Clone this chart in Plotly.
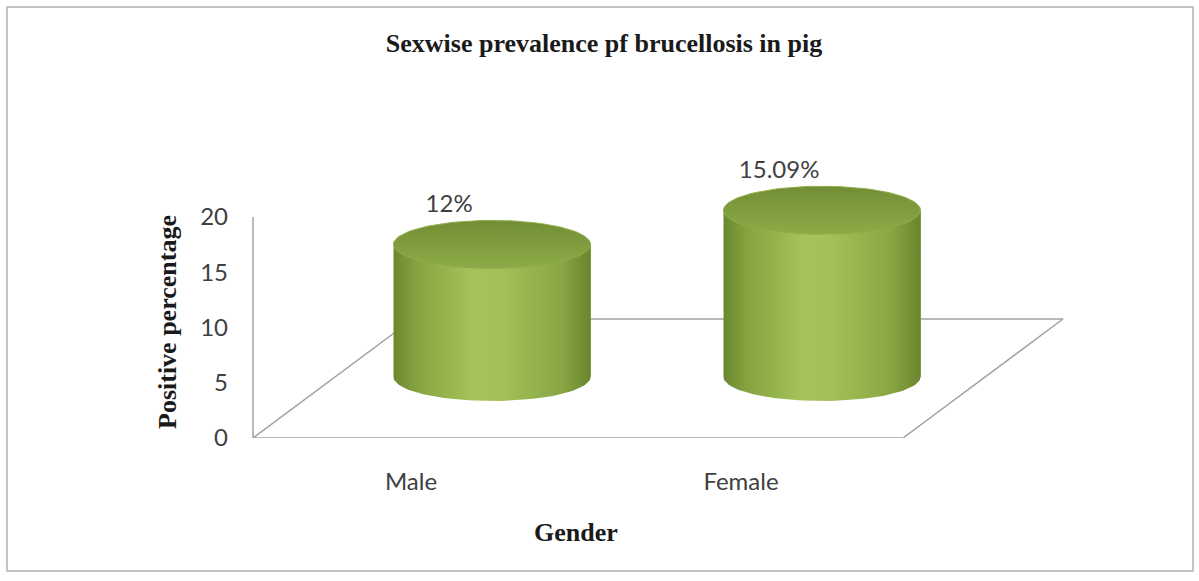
import numpy as np
import plotly.graph_objects as go

# ---- data ----
categories = ["Male", "Female"]
values = [12, 15.09]
label_texts = ["12%", "15.09%"]
y_ticks = [0, 5, 10, 15, 20]

# ---- layout geometry (pixels / style constants) ----
W, H = 1199, 581
ML, MR, MT, MB = 243, 129, 140, 143
PW, PH = W - ML - MR, H - MT - MB
X_PX = 330.0          # pixels per category unit
Y_PX = 11.05          # pixels per value unit
X0_PX = 411 - ML      # pixel offset (in plot area) of first category on front plane
xr = [-X0_PX / X_PX, (PW - X0_PX) / X_PX]
yr = [0, PH / Y_PX]

# depth projection (cylinders sit at mid depth of the floor)
DEPTH_DX = 160 / X_PX
DEPTH_DY = 119 / Y_PX
CYL_DX = 81 / X_PX
CYL_DY = 61 / Y_PX
x2r = [xr[0] - CYL_DX, xr[1] - CYL_DX]
y2r = [yr[0] - CYL_DY, yr[1] - CYL_DY]

HW = 98.5 / X_PX      # cylinder half width (x units)
EH = 24 / Y_PX        # ellipse half height (y units)

FLOOR_L = (253 - 411) / X_PX
FLOOR_R = len(categories) - 1 + (903 - 411 - X_PX) / X_PX

line_col = "#a3a3a3"
fig = go.Figure()

# floor parallelogram
fx = [FLOOR_L, FLOOR_R, FLOOR_R + DEPTH_DX, FLOOR_L + DEPTH_DX, FLOOR_L]
fy = [0, 0, DEPTH_DY, DEPTH_DY, 0]
fig.add_trace(go.Scatter(x=fx, y=fy, mode="lines", line=dict(color=line_col, width=1.5),
                         hoverinfo="skip", showlegend=False))
# vertical axis line
fig.add_trace(go.Scatter(x=[FLOOR_L, FLOOR_L], y=[y_ticks[0], y_ticks[-1]], mode="lines",
                         line=dict(color=line_col, width=1.5), hoverinfo="skip", showlegend=False))

# bars (cylinder bodies) on projected axes
xpos = list(range(len(categories)))
fig.add_trace(go.Bar(x=xpos, y=values, width=2 * HW, xaxis="x2", yaxis="y2",
                     marker=dict(color="#94b44c", line=dict(width=0)),
                     hovertext=categories, showlegend=False))

body_scale = [[0, "#6c8830"], [0.12, "#85a33f"], [0.4, "#a4c35a"], [0.55, "#a2c158"],
              [0.85, "#88a744"], [1, "#6a852f"]]
t_low = np.linspace(np.pi, 2 * np.pi, 60)
t_all = np.linspace(0, 2 * np.pi, 120)
for i, v in zip(xpos, values):
    xs = [i - HW] + list(i + HW * np.cos(t_low)) + [i + HW, i - HW]
    ys = [0] + list(EH * np.sin(t_low)) + [v, v]
    fig.add_trace(go.Scatter(x=xs, y=ys, xaxis="x2", yaxis="y2", mode="lines",
                             line=dict(width=0, color="rgba(0,0,0,0)"), fill="toself",
                             fillgradient=dict(type="horizontal", colorscale=body_scale,
                                               start=i - HW, stop=i + HW),
                             hoverinfo="skip", showlegend=False))
    ex = i + HW * np.cos(t_all)
    ey = v + EH * np.sin(t_all)
    fig.add_trace(go.Scatter(x=ex, y=ey, xaxis="x2", yaxis="y2", mode="lines",
                             line=dict(width=1, color="#8fae4a"), fill="toself",
                             fillgradient=dict(type="vertical",
                                               colorscale=[[0, "#8cab47"], [0.5, "#7f9d3e"], [1, "#718e35"]],
                                               start=v - EH, stop=v + EH),
                             hoverinfo="skip", showlegend=False))

# value labels
fig.add_trace(go.Scatter(x=[i - 0.13 for i in xpos], y=[v + 3.5 for v in values],
                         xaxis="x2", yaxis="y2", mode="text", text=label_texts,
                         textfont=dict(family="Lato", size=24, color="#404040"),
                         cliponaxis=False, hoverinfo="skip", showlegend=False))

serif = dict(family="Liberation Serif", size=26, color="#1a1a1a", weight="bold")

fig.update_layout(
    width=W, height=H, margin=dict(l=ML, r=MR, t=MT, b=MB),
    paper_bgcolor="white", plot_bgcolor="white",
    title=dict(text="Sexwise prevalence pf brucellosis in pig", font=serif,
               x=604 / W, xref="container", xanchor="center",
               y=1 - 43 / H, yref="container", yanchor="middle"),
    xaxis=dict(range=xr, tickvals=xpos, ticktext=categories, showgrid=False, zeroline=False,
               showline=False, ticks="", ticklabelstandoff=27,
               tickfont=dict(family="Lato", size=24, color="#404040")),
    yaxis=dict(range=yr, tickvals=y_ticks, showgrid=False, zeroline=False, showline=False,
               ticks="", ticklabelstandoff=14,
               tickfont=dict(family="Lato", size=24, color="#404040")),
    xaxis2=dict(range=x2r, overlaying="x", visible=False),
    yaxis2=dict(range=y2r, overlaying="y", visible=False),
    annotations=[
        dict(text="Gender", xref="paper", yref="paper", x=(576 - ML) / PW,
             y=(MT + PH - 532) / PH, showarrow=False, font=serif,
             xanchor="center", yanchor="middle"),
        dict(text="Positive percentage", xref="paper", yref="paper", x=(167 - ML) / PW,
             y=(MT + PH - 322) / PH, showarrow=False, font=serif, textangle=-90,
             xanchor="center", yanchor="middle"),
    ],
    shapes=[dict(type="rect", xref="paper", yref="paper",
                 x0=(7 - ML) / PW, x1=(1193 - ML) / PW,
                 y0=(MT + PH - 571) / PH, y1=(MT + PH - 7) / PH,
                 line=dict(color="#c4c4c4", width=2), fillcolor="rgba(0,0,0,0)", layer="below")],
    bargap=0,
)

fig.write_html("out.html")
